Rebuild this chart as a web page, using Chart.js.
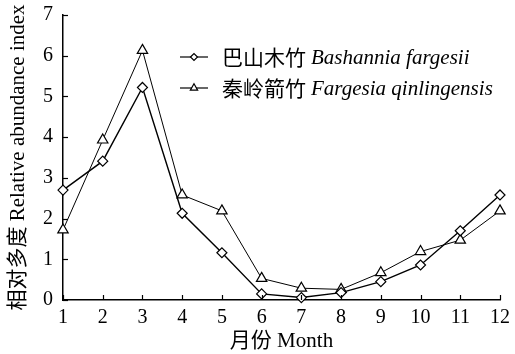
<!DOCTYPE html>
<html><head><meta charset="utf-8">
<script src="https://cdn.jsdelivr.net/npm/chart.js@4"></script>
<style>html,body{margin:0;padding:0;background:#fff}#wrap{width:515px;height:354px}</style>
</head><body><div id="wrap"><canvas id="c" width="515" height="354"></canvas></div>
<script>
const months = [1,2,3,4,5,6,7,8,9,10,11,12];
const bashannia = [2.70,3.41,5.22,2.13,1.16,0.15,0.06,0.18,0.45,0.86,1.70,2.58];
const fargesia = [1.72,3.93,6.13,2.58,2.19,0.53,0.29,0.26,0.67,1.19,1.47,2.19];
const yTicks = [0,1,2,3,4,5,6,7];
const seriesNames = [['巴山木竹','Bashannia fargesii'],['秦岭箭竹','Fargesia qinlingensis']];
const xTitle = '月份 Month';
const yTitle = '相对多度 Relative abundance index';

const FONT = '"Liberation Serif", "Noto Sans CJK SC", serif';

const inwardTicks = {
  id:'inwardTicks',
  afterDraw(chart){
    const ctx = chart.ctx, xs = chart.scales.x, ys = chart.scales.y;
    ctx.save(); ctx.strokeStyle='#000'; ctx.lineWidth=1.2;
    months.forEach(m=>{const px=Math.round(xs.getPixelForValue(m))+0.5; ctx.beginPath(); ctx.moveTo(px,ys.bottom); ctx.lineTo(px,ys.bottom-5); ctx.stroke();});
    yTicks.forEach(v=>{const py=Math.round(ys.getPixelForValue(v))+0.5; ctx.beginPath(); ctx.moveTo(xs.left,py); ctx.lineTo(xs.left+5,py); ctx.stroke();});
    // legend
    const items = [{y:57, style:'rectRot', r:3.5},{y:88, style:'triangle', r:4.2}];
    items.forEach((it,i)=>{
      ctx.lineWidth=1.2; ctx.strokeStyle='#000';
      ctx.beginPath(); ctx.moveTo(180,it.y); ctx.lineTo(208,it.y); ctx.stroke();
      ctx.fillStyle='#fff';
      Chart.helpers.drawPoint(ctx,{pointStyle:it.style,radius:it.r,borderWidth:1.2},194,it.y);
      ctx.fillStyle='#000'; ctx.textBaseline='middle'; ctx.textAlign='left';
      ctx.font = '21px "Noto Sans CJK SC"';
      ctx.fillText(seriesNames[i][0],222,it.y);
      const w = ctx.measureText(seriesNames[i][0]).width;
      ctx.font = 'italic 21px "Liberation Serif"';
      ctx.fillText(seriesNames[i][1],222+w+5,it.y+1);
    });
    ctx.restore();
  }
};

new Chart(document.getElementById('c'),{
  type:'line',
  data:{datasets:[
    {label:'Bashannia fargesii', data:months.map((m,i)=>({x:m,y:bashannia[i]})), borderColor:'#000', borderWidth:1.4, pointStyle:'rectRot', pointRadius:5, pointBackgroundColor:'#fff', pointBorderColor:'#000', pointBorderWidth:1.2, tension:0, clip:false},
    {label:'Fargesia qinlingensis', data:months.map((m,i)=>({x:m,y:fargesia[i]})), borderColor:'#000', borderWidth:1, pointStyle:'triangle', pointRadius:6, pointBackgroundColor:'#fff', pointBorderColor:'#000', pointBorderWidth:1.2, tension:0, clip:false}
  ]},
  options:{
    responsive:false, animation:false, devicePixelRatio:1,
    layout:{padding:{left:0,right:15,top:15,bottom:0}},
    plugins:{legend:{display:false},tooltip:{enabled:false}},
    scales:{
      x:{type:'linear',min:1,max:12,
        afterBuildTicks(s){s.ticks=months.map(v=>({value:v}));},
        afterFit(s){s.height=54; s.paddingLeft=0; s.paddingRight=0;},
        grid:{display:false,drawTicks:false},
        border:{display:true,color:'#000',width:1.5},
        ticks:{color:'#000',padding:6,font:{family:FONT,size:20},maxRotation:0,autoSkip:false},
        title:{display:true,text:xTitle,color:'#000',font:{family:FONT,size:21},padding:{top:0,bottom:0}}
      },
      y:{type:'linear',min:0,max:7,
        afterBuildTicks(s){s.ticks=yTicks.map(v=>({value:v}));},
        afterFit(s){s.width=63; s.paddingTop=0; s.paddingBottom=0;},
        grid:{display:false,drawTicks:false},
        border:{display:true,color:'#000',width:1.5},
        ticks:{color:'#000',padding:10,font:{family:FONT,size:20}},
        title:{display:true,text:yTitle,color:'#000',font:{family:FONT,size:21},padding:{top:6,bottom:0}}
      }
    }
  },
  plugins:[inwardTicks]
});
</script></body></html>
